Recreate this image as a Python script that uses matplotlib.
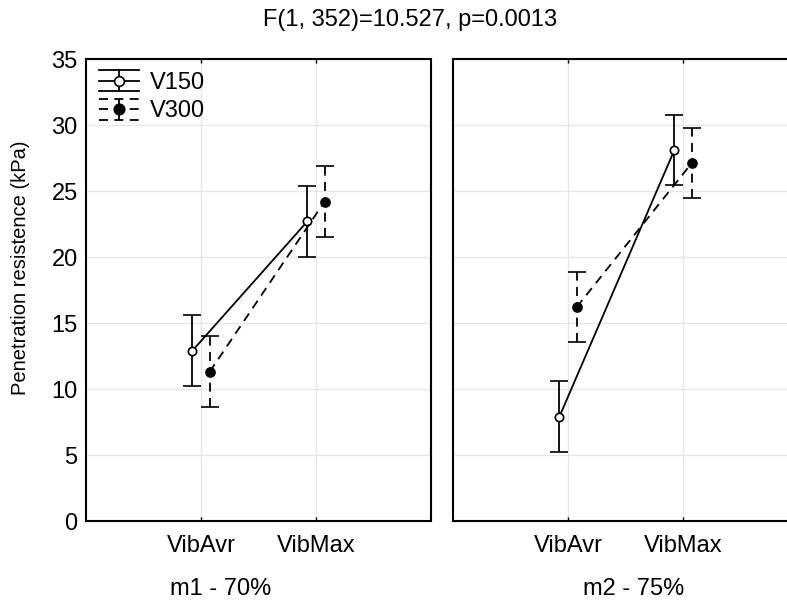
import matplotlib
matplotlib.use("Agg")
import matplotlib.pyplot as plt
from matplotlib.lines import Line2D
import numpy as np

plt.rcParams['font.family'] = ['Liberation Sans', 'DejaVu Sans']

categories = ["VibAvr", "VibMax"]
panels = ["m1 - 70%", "m2 - 75%"]
series = ["V150", "V300"]
v150_m1 = [12.9, 22.7]
v300_m1 = [11.3, 24.2]
v150_m2 = [7.9, 28.1]
v300_m2 = [16.2, 27.1]
err_v150_m1 = [2.68, 2.68]
err_v300_m1 = [2.68, 2.68]
err_v150_m2 = [2.68, 2.68]
err_v300_m2 = [2.65, 2.65]
title = "F(1, 352)=10.527, p=0.0013"
ylabel = "Penetration resistence (kPa)"

W, H = 787, 603
fig = plt.figure(figsize=(W / 100, H / 100), dpi=100)

ax_w = 345 / W
ax_b = 1 - 521 / H
ax_h = (521 - 59) / H
ax1 = fig.add_axes([86 / W, ax_b, ax_w, ax_h])
ax2 = fig.add_axes([453 / W, ax_b, ax_w, ax_h])

DASH = (0, (5, 3.5))
FS = 17
LW = 1.3

data = [
    (ax1, v150_m1, err_v150_m1, v300_m1, err_v300_m1),
    (ax2, v150_m2, err_v150_m2, v300_m2, err_v300_m2),
]
x = np.arange(len(categories))
off = 0.075
for i, (ax, a, ea, b, eb) in enumerate(data):
    ax.errorbar(x - off, a, yerr=ea, color='black', lw=LW, elinewidth=LW,
                capsize=6.5, capthick=LW, marker='o', ms=6, mfc='white',
                mec='black', mew=1.2, ls='-', zorder=3)
    h2 = ax.errorbar(x + off, b, yerr=eb, color='black', lw=LW, elinewidth=LW,
                     capsize=6.5, capthick=LW, marker='o', ms=6.5, mfc='black',
                     mec='black', mew=1.2, ls=DASH, zorder=3)
    for bl in h2[2]:
        bl.set_linestyle(DASH)
    ax.set_xlim(-1, 2)
    ax.set_ylim(0, 35)
    ax.set_yticks(np.arange(0, 36, 5))
    ax.set_xticks(x)
    ax.set_xticklabels(categories, fontsize=FS)
    ax.grid(True, color='#e6e6e6', lw=1)
    ax.set_axisbelow(True)
    ax.tick_params(axis='x', direction='in', length=3, width=1, top=True,
                   labelsize=FS, pad=10)
    ax.tick_params(axis='y', length=0, labelsize=FS, pad=6)
    for s in ax.spines.values():
        s.set_linewidth(1.5)
    if i == 1:
        ax.tick_params(axis='y', labelleft=False)
    else:
        ax.set_ylabel(ylabel, fontsize=14.5)
        ax.yaxis.set_label_coords(-56 / 345, (521 - 268) / 462)


class ErrHandler:
    def __init__(self, filled, dashed):
        self.filled = filled
        self.dashed = dashed

    def legend_artist(self, legend, orig_handle, fontsize, handlebox):
        x0, y0 = handlebox.xdescent, handlebox.ydescent
        w, h = handlebox.width, handlebox.height
        cy = h / 2 - y0
        ls = DASH if self.dashed else '-'
        d = 7.6
        arts = [
            Line2D([0, w], [cy, cy], color='black', lw=LW, ls=ls),
            Line2D([0, w], [cy + d, cy + d], color='black', lw=LW, ls=ls),
            Line2D([0, w], [cy - d, cy - d], color='black', lw=LW, ls=ls),
            Line2D([w / 2, w / 2], [cy - d, cy + d], color='black', lw=LW, ls=ls),
            Line2D([w / 2], [cy], marker='o', ms=7 if not self.filled else 7.5,
                   mfc='black' if self.filled else 'white', mec='black', mew=1.2,
                   ls='none'),
        ]
        for a in arts:
            a.set_transform(handlebox.get_transform())
            handlebox.add_artist(a)
        return arts[0]


k1 = Line2D([], [])
k2 = Line2D([], [])
ax1.legend(handles=[k1, k2], labels=series, loc='upper left', frameon=False,
           fontsize=FS, handlelength=1.7, borderaxespad=0.0, borderpad=0.55,
           labelspacing=0.27, handletextpad=0.45,
           handler_map={k1: ErrHandler(False, False), k2: ErrHandler(True, True)})

fig.text(410 / W, 1 - 20 / H, title, ha='center', va='center', fontsize=FS)
fig.text(221 / W, 1 - 589 / H, panels[0], ha='center', va='center', fontsize=FS)
fig.text(634 / W, 1 - 589 / H, panels[1], ha='center', va='center', fontsize=FS)

fig.savefig("out.png", dpi=100)
